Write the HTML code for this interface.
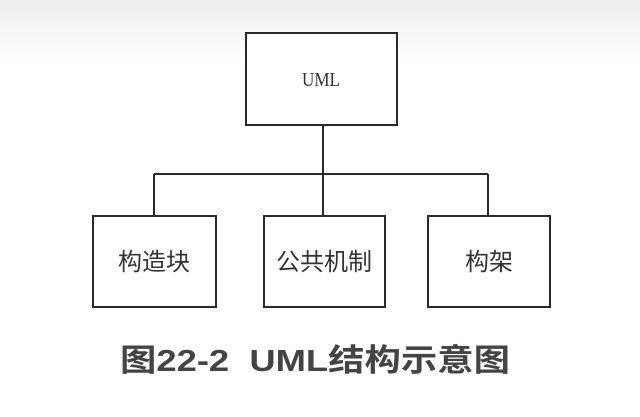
<!DOCTYPE html>
<html><head><meta charset="utf-8"><style>
html,body{margin:0;padding:0;background:#fff}
svg{display:block}
</style></head><body>
<svg width="640" height="417" viewBox="0 0 640 417" xmlns="http://www.w3.org/2000/svg">
<defs><linearGradient id="g" x1="0" y1="0" x2="0" y2="1">
<stop offset="0" stop-color="#ececec"/><stop offset="1" stop-color="#ffffff"/></linearGradient></defs>
<rect width="640" height="60" fill="url(#g)"/>
<g fill="none" stroke="#2a2a2a" stroke-width="2">
<rect x="246" y="33" width="151" height="92" fill="#fff"/>
<line x1="323" y1="125" x2="323" y2="216"/>
<line x1="154" y1="174" x2="488" y2="174"/>
<line x1="154" y1="174" x2="154" y2="216"/>
<line x1="488" y1="174" x2="488" y2="216"/>
<rect x="93" y="216" width="123" height="91" fill="#fff"/>
<rect x="264" y="216" width="121" height="91" fill="#fff"/>
<rect x="428" y="216" width="122" height="91" fill="#fff"/>
</g>
<g font-family="'Liberation Serif','Noto Serif CJK SC',serif" fill="#333" text-anchor="middle">
<text x="321" y="86" font-size="20" textLength="38" lengthAdjust="spacingAndGlyphs">UML</text>
<text x="154" y="270" font-size="24" font-family="'Liberation Sans','Noto Sans CJK SC',sans-serif">构造块</text>
<text x="324" y="270" font-size="24" font-family="'Liberation Sans','Noto Sans CJK SC',sans-serif">公共机制</text>
<text x="489" y="270" font-size="24" font-family="'Liberation Sans','Noto Sans CJK SC',sans-serif">构架</text>
</g>
<text xml:space="preserve" x="120" y="371" font-size="31" font-weight="bold" fill="#444" textLength="390" lengthAdjust="spacingAndGlyphs" font-family="'Liberation Sans','Noto Sans CJK SC',sans-serif">图22-2  UML结构示意图</text>
</svg>
</body></html>
